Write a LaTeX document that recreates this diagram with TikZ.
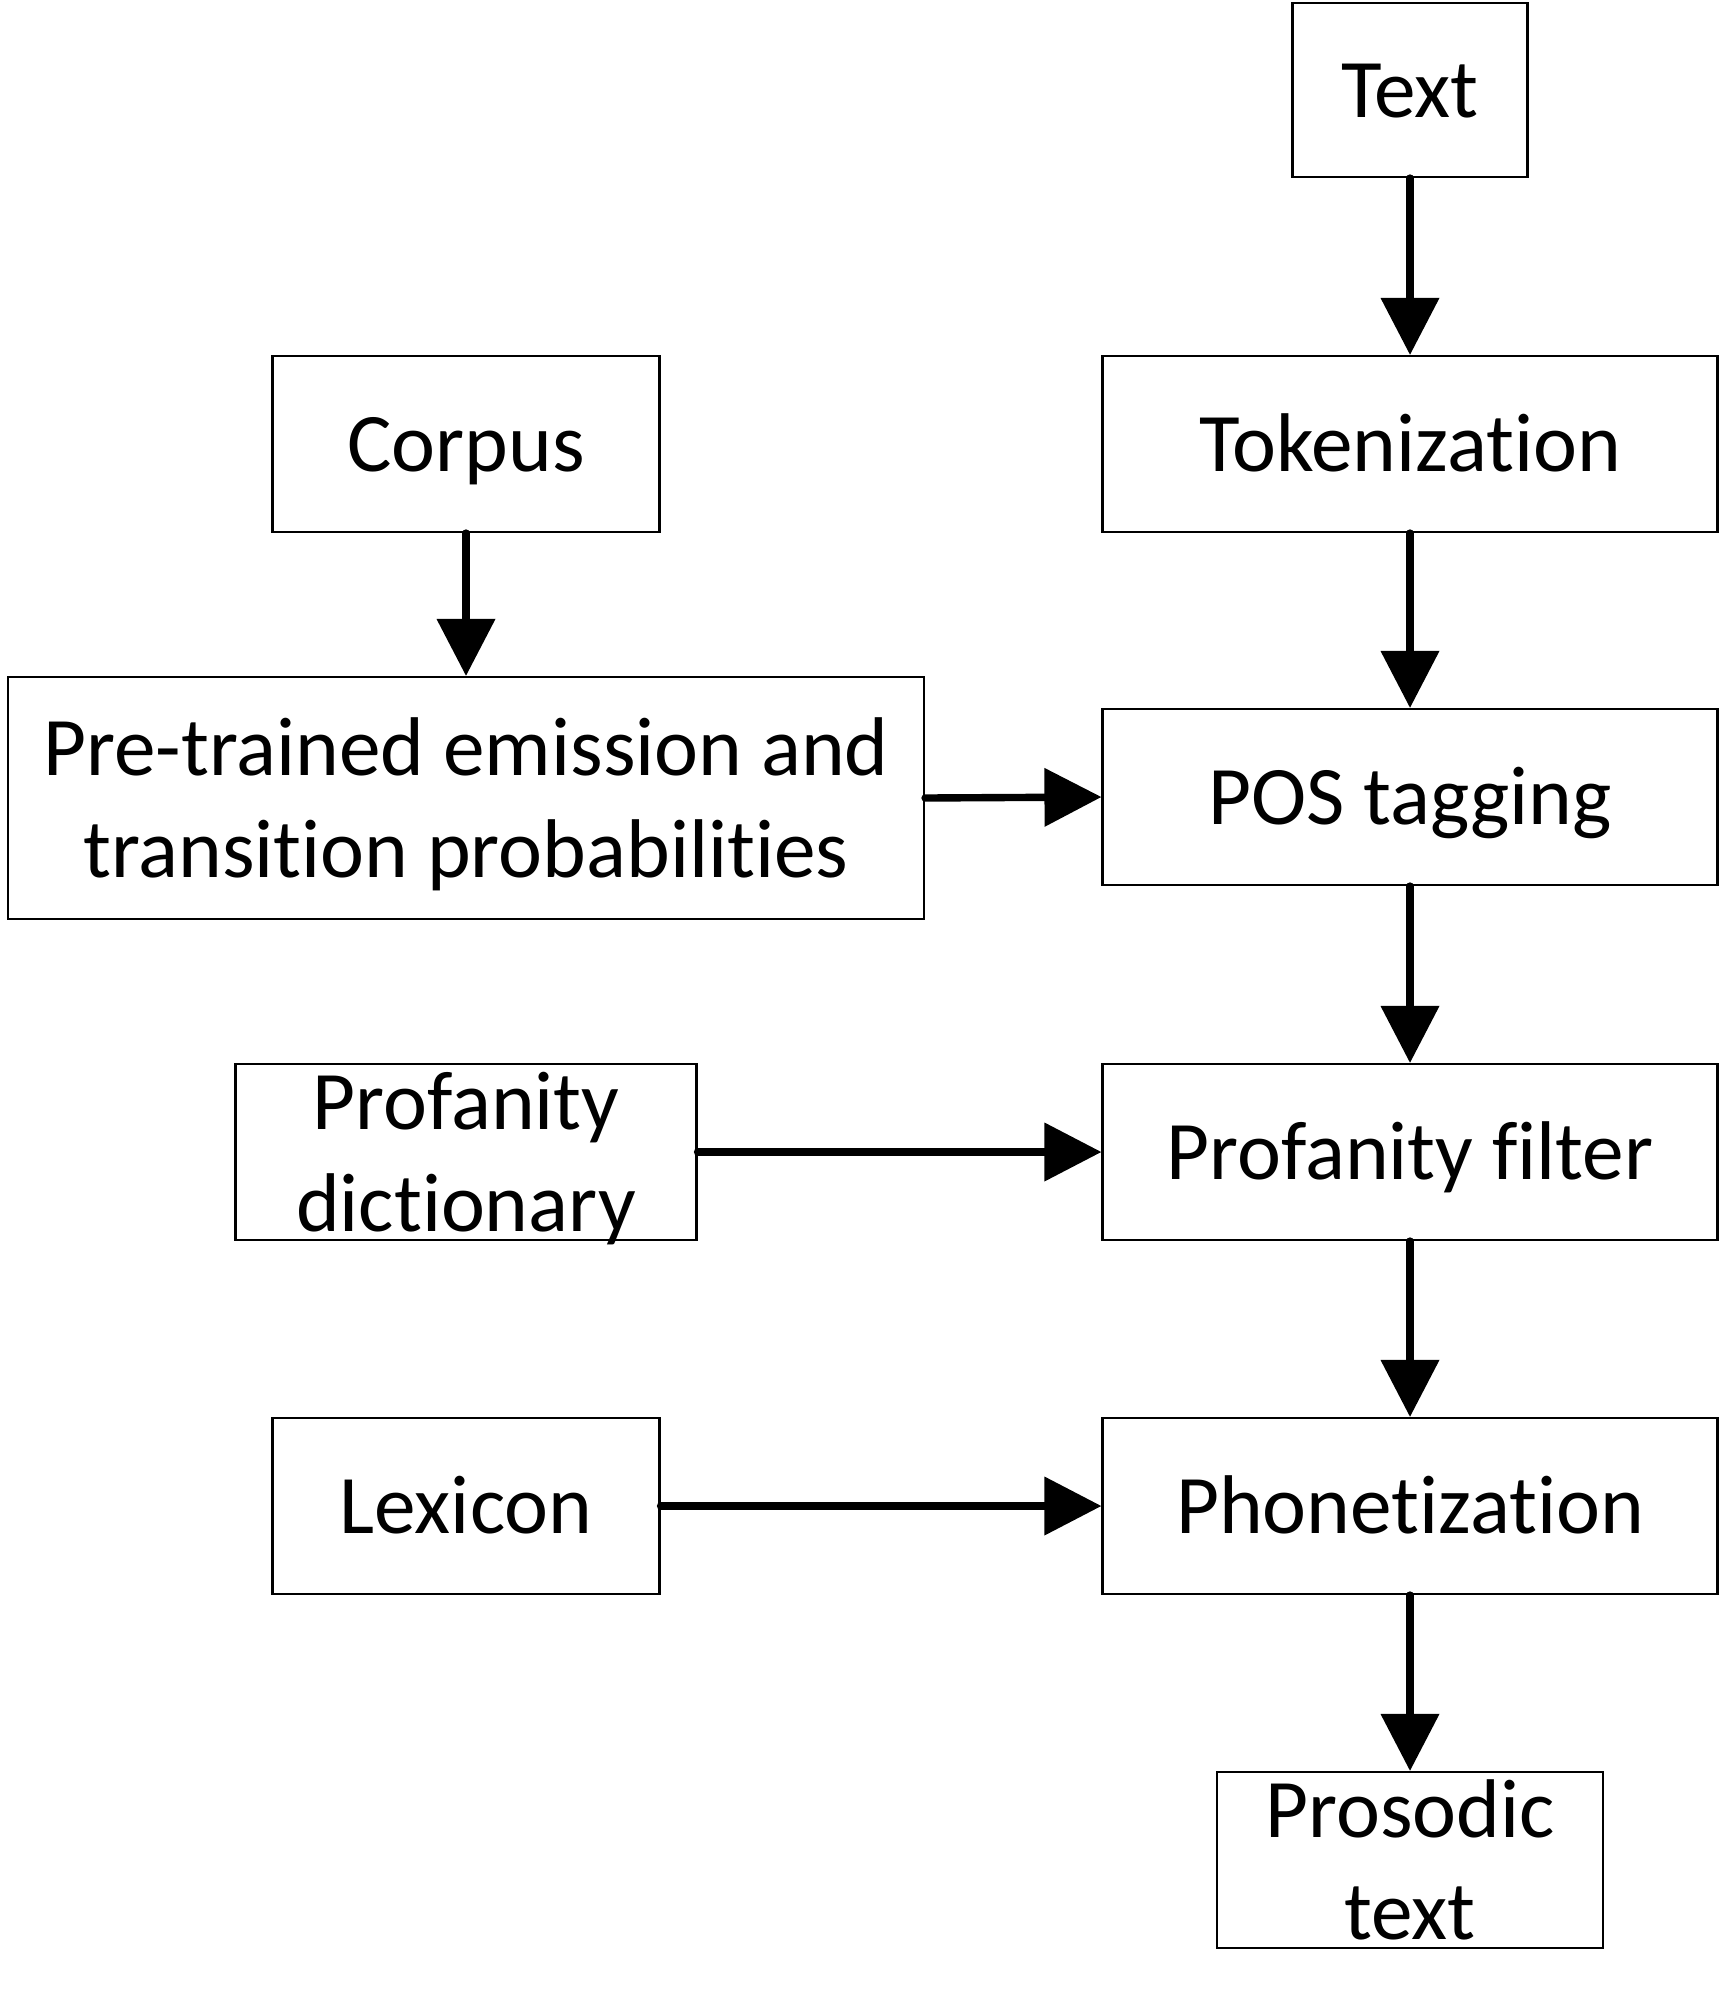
\documentclass[tikz,border=0pt]{standalone}
\usepackage{fontspec}
\setmainfont{Carlito}[Ligatures=NoCommon]
\usetikzlibrary{arrows.meta}

\begin{document}
\begin{tikzpicture}[
		box/.style={draw, line width=0.6pt, inner sep=0pt, align=center,
			minimum height=1.76cm, font=\fontsize{23.7}{29}\selectfont},
		oneline/.style={box, text height=0.54cm, text depth=0pt},
		twoline/.style={box, text depth=0pt},
		flow/.style={line width=2.1pt, line cap=round,
			-{Triangle[width=0.57cm, length=0.57cm]}}]
		\useasboundingbox (0,0) rectangle (17.2,-20);
		%Columna derecha
		\node [oneline, minimum width=2.35cm, minimum height=1.74cm] (text) at (14.10,-0.90) {Text};
		\node [oneline, minimum width=6.15cm] (token) at (14.10,-4.44) {Tokenization};
		\node [oneline, minimum width=6.15cm] (pos) at (14.10,-7.97) {POS tagging};
		\node [oneline, minimum width=6.15cm] (filter) at (14.10,-11.52) {Profanity filter};
		\node [oneline, minimum width=6.15cm] (phon) at (14.10,-15.06) {Phonetization};
		\node [twoline, minimum width=3.86cm] (prosodic) at (14.10,-18.60) {Prosodic\\text};
		%Columna izquierda
		\node [oneline, minimum width=3.87cm] (corpus) at (4.66,-4.44) {Corpus};
		\node [twoline, minimum width=9.16cm, minimum height=2.42cm] (prob) at (4.66,-7.98) {Pre-trained emission and\\transition probabilities};
		\node [twoline, minimum width=4.61cm] (dict) at (4.66,-11.52) {Profanity\\dictionary};
		\node [oneline, minimum width=3.87cm] (lexicon) at (4.66,-15.06) {Lexicon};
		%Flechas
		\draw [flow] (text) -- (token);
		\draw [flow] (token) -- (pos);
		\draw [flow] (pos) -- (filter);
		\draw [flow] (filter) -- (phon);
		\draw [flow] (phon) -- (prosodic);
		\draw [flow] (corpus) -- (prob);
		\draw [flow] (prob.east) -- (pos.west);
		\draw [flow] (dict) -- (filter);
		\draw [flow] (lexicon) -- (phon);
	\end{tikzpicture}
\end{document}
